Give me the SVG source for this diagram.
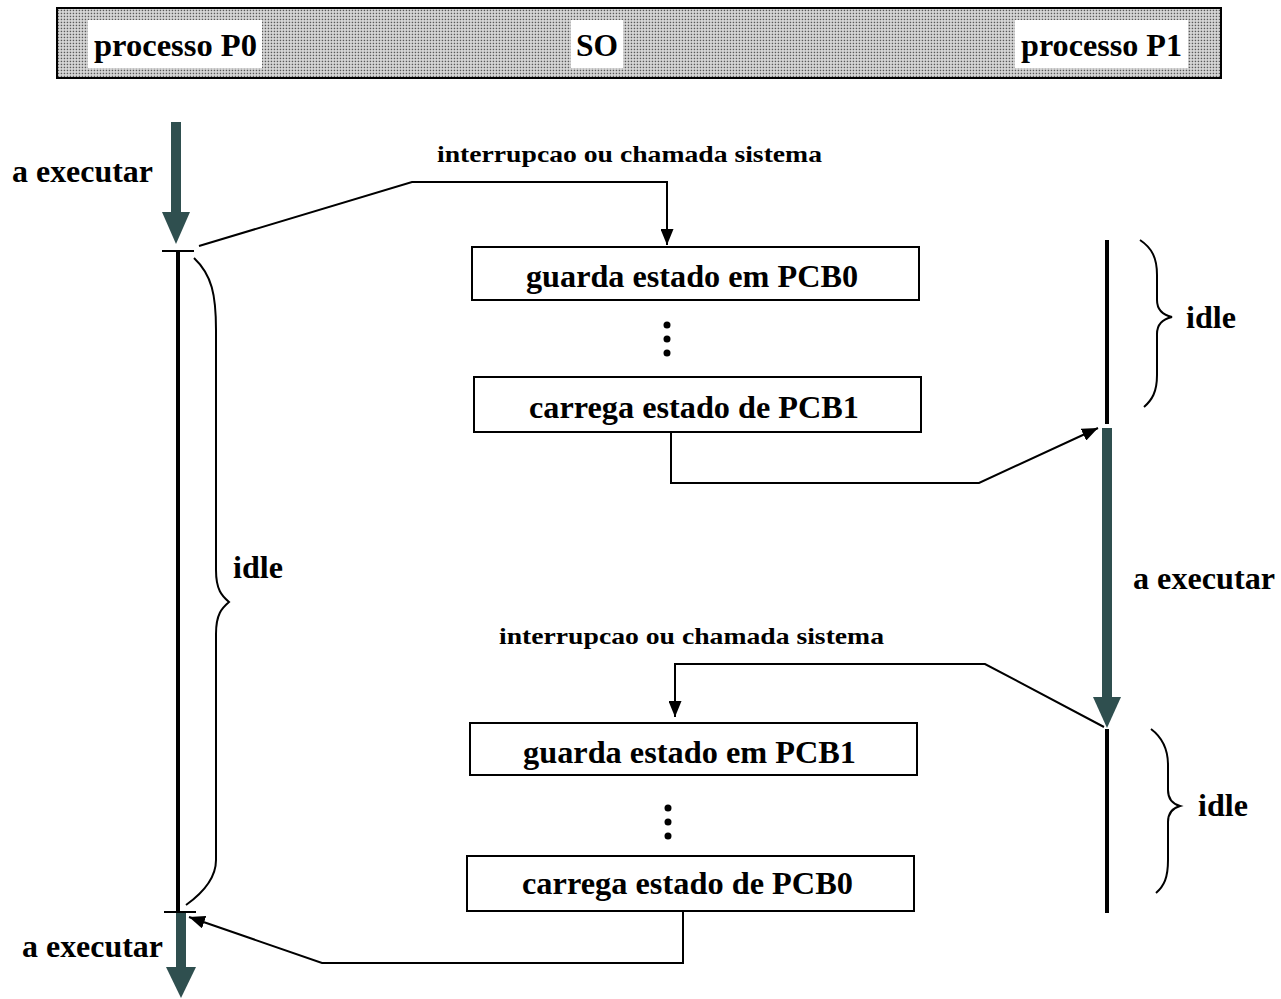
<svg xmlns="http://www.w3.org/2000/svg" width="1281" height="999" viewBox="0 0 1281 999">
<style>
text{font-family:"Liberation Serif","Times New Roman",serif;font-weight:bold;fill:#000}
.lbl{font-size:32px}
.sm{font-size:24px}
.hd{font-size:32px}
.box{fill:#fff;stroke:#000;stroke-width:2}
.ln{fill:none;stroke:#000;stroke-width:2}
.tl{stroke:#000;stroke-width:4}
.tk{stroke:#000;stroke-width:2}
.br{fill:none;stroke:#000;stroke-width:2}
.g{fill:#2f4f4f}
</style>
<defs>
<pattern id="dots" width="3" height="3" patternUnits="userSpaceOnUse">
<rect width="3" height="3" fill="#dcdcdc"/>
<rect x="0.7" y="0.7" width="1.5" height="1.5" fill="#5a5a5a"/>
</pattern>
<marker id="ah" viewBox="0 0 16 13" refX="16" refY="6.5" markerWidth="16" markerHeight="13" markerUnits="userSpaceOnUse" orient="auto">
<path d="M0,0 L16,6.5 L0,13 z" fill="#000"/>
</marker>
</defs>

<g id="header">
<rect x="57" y="8" width="1164" height="70" fill="url(#dots)" stroke="#000" stroke-width="2"/>
<rect x="88" y="20" width="174" height="48" fill="#fff"/>
<text class="hd" x="94" y="56" textLength="163" lengthAdjust="spacingAndGlyphs">processo P0</text>
<rect x="571" y="20" width="52" height="48" fill="#fff"/>
<text class="hd" x="576" y="56" textLength="42" lengthAdjust="spacingAndGlyphs">SO</text>
<rect x="1015" y="20" width="173" height="48" fill="#fff"/>
<text class="hd" x="1021" y="56" textLength="161" lengthAdjust="spacingAndGlyphs">processo P1</text>
</g>

<g id="p0-timeline">
<rect class="g" x="171" y="122" width="10" height="92"/>
<polygon class="g" points="162,212 190,212 176,244"/>
<line class="tk" x1="162" y1="251" x2="194" y2="251"/>
<line class="tl" x1="178" y1="251" x2="178" y2="912"/>
<line class="tk" x1="164" y1="912" x2="196" y2="912"/>
<rect class="g" x="176" y="913" width="10" height="56"/>
<polygon class="g" points="166,967 196,967 181,998"/>
<text class="lbl" x="12" y="182" textLength="141" lengthAdjust="spacingAndGlyphs">a executar</text>
<text class="lbl" x="22" y="957" textLength="141" lengthAdjust="spacingAndGlyphs">a executar</text>
<path class="br" d="M194,258 C212,275 216,295 216,330 L216,570 C216,590 222,596 229,602 C222,608 216,614 216,634 L216,860 C216,880 200,895 186,905"/>
<text class="lbl" x="233" y="578" textLength="50" lengthAdjust="spacingAndGlyphs">idle</text>
</g>

<g id="p1-timeline">
<line class="tl" x1="1107" y1="240" x2="1107" y2="424"/>
<rect class="g" x="1102" y="428" width="10" height="271"/>
<polygon class="g" points="1093,697 1121,697 1107,728"/>
<line class="tl" x1="1107" y1="729" x2="1107" y2="913"/>
<text class="lbl" x="1133" y="589" textLength="142" lengthAdjust="spacingAndGlyphs">a executar</text>
<path class="br" d="M1140,240 C1152,248 1157,258 1157,275 L1157,300 C1157,310 1163,315 1172,317 C1163,319 1157,324 1157,334 L1157,375 C1157,392 1152,400 1144,407"/>
<text class="lbl" x="1186" y="328" textLength="50" lengthAdjust="spacingAndGlyphs">idle</text>
<path class="br" d="M1151,729 C1163,738 1168,750 1168,765 L1168,790 C1168,800 1173,804 1180,806 C1173,808 1168,812 1168,822 L1168,860 C1168,878 1164,886 1156,893"/>
<text class="lbl" x="1198" y="816" textLength="50" lengthAdjust="spacingAndGlyphs">idle</text>
</g>

<g id="so-1">
<text class="sm" x="437" y="162" textLength="385" lengthAdjust="spacingAndGlyphs">interrupcao ou chamada sistema</text>
<rect class="box" x="472" y="247" width="447" height="53"/>
<text class="lbl" x="526" y="287" textLength="332" lengthAdjust="spacingAndGlyphs">guarda estado em PCB0</text>
<circle cx="667" cy="325" r="3.5"/>
<circle cx="667" cy="339" r="3.5"/>
<circle cx="667" cy="353" r="3.5"/>
<rect class="box" x="474" y="377" width="447" height="55"/>
<text class="lbl" x="529" y="418" textLength="330" lengthAdjust="spacingAndGlyphs">carrega estado de PCB1</text>
</g>

<g id="so-2">
<text class="sm" x="499" y="644" textLength="385" lengthAdjust="spacingAndGlyphs">interrupcao ou chamada sistema</text>
<rect class="box" x="470" y="723" width="447" height="52"/>
<text class="lbl" x="523" y="763" textLength="333" lengthAdjust="spacingAndGlyphs">guarda estado em PCB1</text>
<circle cx="668" cy="808" r="3.5"/>
<circle cx="668" cy="822" r="3.5"/>
<circle cx="668" cy="836" r="3.5"/>
<rect class="box" x="467" y="856" width="447" height="55"/>
<text class="lbl" x="522" y="894" textLength="331" lengthAdjust="spacingAndGlyphs">carrega estado de PCB0</text>
</g>

<g id="connectors">
<polyline class="ln" points="199,246 412,182 667,182 667,245" marker-end="url(#ah)"/>
<polyline class="ln" points="671,433 671,483 979,483 1098,428" marker-end="url(#ah)"/>
<polyline class="ln" points="1104,727 985,664 675,664 675,717" marker-end="url(#ah)"/>
<polyline class="ln" points="683,912 683,963 322,963 189,917" marker-end="url(#ah)"/>
</g>
</svg>
